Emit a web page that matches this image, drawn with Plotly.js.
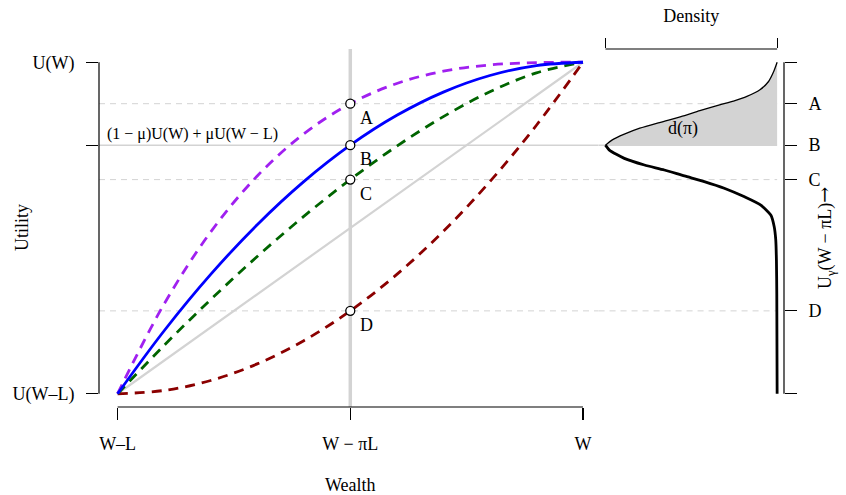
<!DOCTYPE html>
<html>
<head>
<meta charset="utf-8">
<script src="https://cdn.plot.ly/plotly-3.0.1.min.js"></script>
<style>html,body{margin:0;padding:0;background:#fff;}</style>
</head>
<body>
<div id="chart" style="width:846px;height:495px;"></div>
<script>
// ---- data (normalised: W-L -> 0, W -> 1 ; U(W-L) -> 0, U(W) -> 1) ----
const wealthX   = [0, 0.1, 0.2, 0.3, 0.4, 0.5, 0.6, 0.7, 0.8, 0.9, 1];
const uPurple   = [0, 0.271, 0.488, 0.657, 0.784, 0.875, 0.936, 0.973, 0.992, 0.999, 1];
const uBlue     = [0, 0.19, 0.36, 0.51, 0.64, 0.75, 0.84, 0.91, 0.96, 0.99, 1];
const uGreen    = [0, 0.146, 0.284, 0.414, 0.535, 0.646, 0.747, 0.836, 0.911, 0.968, 1];
const uRed      = [0, 0.01, 0.04, 0.09, 0.16, 0.25, 0.36, 0.49, 0.64, 0.81, 1];
const diagX     = [0, 1];
const diagY     = [0, 1];
const xTickVals = [0, 0.5, 1];
const xTickText = ['W–L', 'W − πL', 'W'];
const piX       = 0.5;
const pointNames  = ['A', 'B', 'C', 'D'];
const pointValues = [0.875, 0.75, 0.646, 0.25];
const yTickVals = [0, 1];
const yTickText = ['U(W–L)', 'U(W)'];
const yMinorTicks = [0.75];
const y2MinorTicks = [0, 1];
const densityTicks = [0, 1];
// density of U(W - piL), density normalised to max 1
const densUpY = [0.75, 0.766, 0.783, 0.801, 0.819, 0.836, 0.854, 0.872, 0.883, 0.897, 0.917, 0.942, 0.972, 1.0];
const densUpX = [1.0, 0.96, 0.89, 0.80, 0.68, 0.56, 0.45, 0.33, 0.254, 0.176, 0.10, 0.05, 0.02, 0.0];
const densLoY = [0.75, 0.735, 0.71, 0.69, 0.675, 0.657, 0.64, 0.62, 0.594, 0.569, 0.539, 0.504, 0.464, 0.40, 0.30, 0.0];
const densLoX = [1.0, 0.977, 0.89, 0.773, 0.657, 0.54, 0.424, 0.308, 0.19, 0.095, 0.037, 0.017, 0.008, 0.004, 0.002, 0.0];

const GRAY = '#d3d3d3';
const FONT = 'Liberation Serif, Times New Roman, serif';
const R = [-0.04, 1.04];

const traces = [];
// horizontal reference lines (main + density panel)
pointValues.forEach((v, i) => {
  const dash = pointNames[i] === 'B' ? 'solid' : '6px,5px';
  const w = pointNames[i] === 'B' ? 1.5 : 1;
  traces.push({x: R, y: [v, v], xaxis: 'x', yaxis: 'y', mode: 'lines',
    line: {color: GRAY, width: w, dash: dash}, hoverinfo: 'skip'});
  traces.push({x: [1.04, 0], y: [v, v], xaxis: 'x2', yaxis: 'y2', mode: 'lines',
    line: {color: GRAY, width: w, dash: dash}, hoverinfo: 'skip'});
});
// vertical line at W - piL
traces.push({x: [piX, piX], y: R, mode: 'lines', line: {color: GRAY, width: 3.5}, hoverinfo: 'skip'});
// diagonal (risk neutral)
traces.push({x: diagX, y: diagY, mode: 'lines', line: {color: GRAY, width: 2.2}, hoverinfo: 'skip'});
// utility curves
const curve = (y, color, dash) => ({x: wealthX, y: y, mode: 'lines',
  line: {color: color, width: 2.8, dash: dash, shape: 'spline', smoothing: 1}, hoverinfo: 'skip'});
traces.push(curve(uRed, '#8b0000', '10px,7px'));
traces.push(curve(uGreen, '#006400', '10px,7px'));
traces.push(curve(uPurple, '#a020f0', '10px,7px'));
traces.push(curve(uBlue, '#0000ff', 'solid'));
// points A-D
traces.push({x: pointValues.map(() => piX), y: pointValues, mode: 'markers',
  marker: {symbol: 'circle', size: 9, color: 'white', line: {color: 'black', width: 1.3}}, hoverinfo: 'skip'});
// density: upper (filled) and lower
traces.push({x: densUpX, y: densUpY, xaxis: 'x2', yaxis: 'y2', mode: 'lines', fill: 'tozerox',
  fillcolor: GRAY, line: {color: 'black', width: 1.3, shape: 'spline', smoothing: 0.6}, hoverinfo: 'skip'});
traces.push({x: densLoX, y: densLoY, xaxis: 'x2', yaxis: 'y2', mode: 'lines',
  line: {color: 'black', width: 2.8, shape: 'spline', smoothing: 0.6}, hoverinfo: 'skip'});

const annotations = pointNames.map((n, i) => ({x: piX, y: pointValues[i], xref: 'x', yref: 'y',
  text: n, showarrow: false, xanchor: 'left', yanchor: 'top', xshift: 8, yshift: -2,
  font: {family: FONT, size: 18, color: 'black'}}));
annotations.push({x: 0, y: 0.75, xref: 'x', yref: 'y', text: '(1 − μ)U(W) + μU(W − L)',
  showarrow: false, xanchor: 'left', yanchor: 'bottom', xshift: -13, yshift: 0,
  font: {family: FONT, size: 16, color: 'black'}});
annotations.push({x: 0.55, y: 0.80, xref: 'x2', yref: 'y2', text: 'd(π)', showarrow: false,
  xanchor: 'center', yanchor: 'middle', font: {family: FONT, size: 18, color: 'black'}});
annotations.push({x: -0.1124, y: 0.5, xref: 'paper', yref: 'paper', text: 'Utility', textangle: -90,
  xanchor: 'center', yanchor: 'middle', showarrow: false, font: {family: FONT, size: 18, color: 'black'}});
annotations.push({x: 1.06, y: 0.472, xref: 'paper', yref: 'paper',
  text: 'U<sub>γ</sub>(W − πL)<span style="font-family:DejaVu Serif;font-size:19px">→</span>',
  textangle: -90, xanchor: 'center', yanchor: 'middle', showarrow: false,
  font: {family: FONT, size: 18, color: 'black'}});

const axLine = {color: 'black', width: 1.2};
const shapes = [
  {type: 'line', xref: 'x', yref: 'paper', x0: 0, x1: 1, y0: 0, y1: 0, line: axLine},
  {type: 'line', xref: 'paper', yref: 'y', x0: 0, x1: 0, y0: 0, y1: 1, line: axLine},
  {type: 'line', xref: 'paper', yref: 'y2', x0: 1, x1: 1, y0: 0, y1: 1, line: axLine},
  {type: 'line', xref: 'x2', yref: 'paper', x0: 0, x1: 1, y0: 1, y1: 1, line: axLine}
];

const common = {showgrid: false, zeroline: false, showline: false, ticks: 'outside', ticklen: 12,
  tickwidth: 1.2, tickcolor: 'black', tickfont: {family: FONT, size: 18, color: 'black'}};
const minorTicks = (vals, len) => ({tickvals: vals, ticks: 'outside', ticklen: len || 12, tickwidth: 1.2,
  tickcolor: 'black', showgrid: false});

const layout = {
  width: 846, height: 495,
  margin: {l: 99, r: 62, t: 49, b: 88, pad: 0},
  paper_bgcolor: 'white', plot_bgcolor: 'white',
  showlegend: false, hovermode: false,
  font: {family: FONT, size: 18, color: 'black'},
  xaxis: Object.assign({}, common, {domain: [0, 0.7337], range: R, anchor: 'y',
    tickvals: xTickVals, ticktext: xTickText, ticklabelstandoff: 8,
    title: {text: 'Wealth', standoff: 31, font: {family: FONT, size: 18, color: 'black'}}}),
  yaxis: Object.assign({}, common, {domain: [0, 1], range: R, anchor: 'x',
    tickvals: yTickVals, ticktext: yTickText, ticklabelstandoff: 8,
    minor: minorTicks(yMinorTicks)}),
  xaxis2: Object.assign({}, common, {domain: [0.7293, 1], range: [1.04, -0.04], anchor: 'y2',
    side: 'top', tickmode: 'array', tickvals: [], showticklabels: false, ticklen: 10,
    minor: minorTicks(densityTicks, 10),
    title: {text: 'Density', standoff: 10, font: {family: FONT, size: 18, color: 'black'}}}),
  yaxis2: Object.assign({}, common, {domain: [0, 1], range: R, anchor: 'x2', side: 'right',
    tickvals: pointValues, ticktext: pointNames, ticklabelstandoff: 8,
    minor: minorTicks(y2MinorTicks)}),
  shapes: shapes,
  annotations: annotations
};

Plotly.newPlot('chart', traces, layout, {displayModeBar: false, staticPlot: true});
</script>
</body>
</html>
